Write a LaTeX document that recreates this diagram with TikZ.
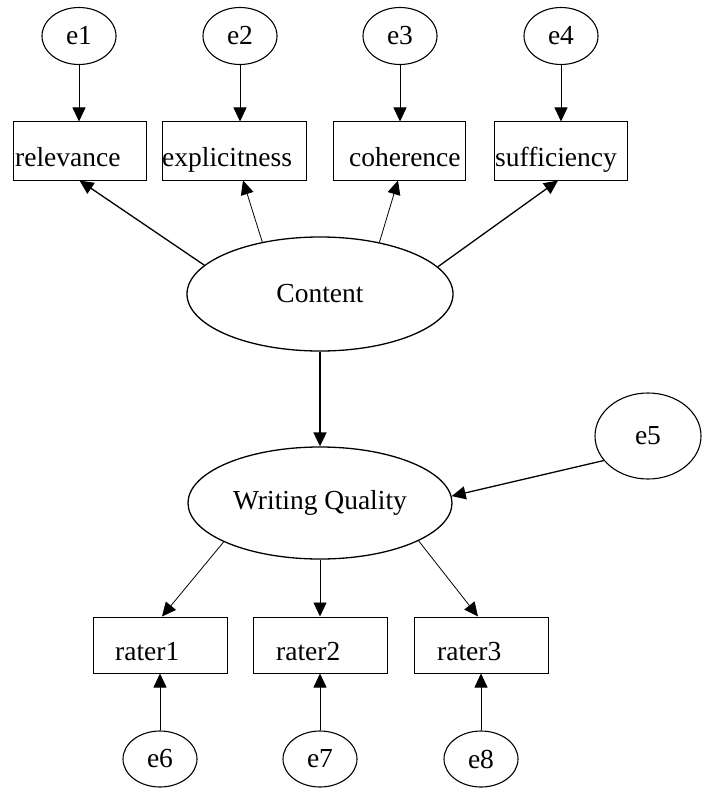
\documentclass[tikz,border=0pt]{standalone}
\usepackage{fontspec}
\setmainfont{Liberation Serif}
\usetikzlibrary{shapes.geometric,arrows.meta,calc}

\begin{document}
\begin{tikzpicture}[x=1pt,y=-1pt,
  font=\fontsize{27.5}{30}\selectfont,
  err/.style={draw,ellipse,line width=1.1pt,minimum width=74pt,minimum height=57pt,inner sep=0pt},
  latent/.style={draw,ellipse,line width=1.3pt,minimum width=266pt,minimum height=114pt,inner sep=0pt},
  obs/.style={draw,rectangle,line width=1pt,minimum height=58pt,inner sep=0pt},
  lbl/.style={anchor=base west,inner sep=0pt},
  arr/.style={-{Triangle[length=14pt,width=13pt]},line width=0.8pt},
  loadarr/.style={arr,line width=1.3pt},
]
\useasboundingbox (0,0) rectangle (704,789);

% error terms of the content indicators
\node[err] (e1) at (79,36) {e1};
\node[err] (e2) at (240,36) {e2};
\node[err] (e3) at (400,36) {e3};
\node[err] (e4) at (561,36) {e4};

% content indicators
\node[obs,minimum width=133pt] (rel) at (79.5,151) {};
\node[lbl] (relt) at (15,166) {relevance};
\node[obs,minimum width=144pt] (exp) at (234,151) {};
\node[lbl] (expt) at (162,166) {explicitness};
\node[obs,minimum width=132pt] (coh) at (399,151) {};
\node[lbl] (coht) at (349,166) {coherence};
\node[obs,minimum width=133pt] (suf) at (560.5,151) {};
\node[lbl] (suft) at (495,166) {sufficiency};

% latent variables
\node[latent] (content) at (320,294) {Content};
\node[latent,minimum width=264pt,minimum height=112pt] (wq) at (320,503) {Writing Quality};
\node[err,minimum width=106pt,minimum height=86pt] (e5) at (648,436) {e5};

% rater scores
\node[obs,minimum width=134pt,minimum height=56pt] (r1) at (160,645) {};
\node[lbl] (r1t) at (115,660) {rater1};
\node[obs,minimum width=134pt,minimum height=56pt] (r2) at (320,645) {};
\node[lbl] (r2t) at (276,660) {rater2};
\node[obs,minimum width=134pt,minimum height=56pt] (r3) at (481,645) {};
\node[lbl] (r3t) at (437,660) {rater3};

% error terms of the raters
\node[err,minimum height=56pt] (e6) at (160,759) {e6};
\node[err,minimum height=56pt] (e7) at (320,759) {e7};
\node[err,minimum height=56pt] (e8) at (481,759) {e8};

% error paths
\draw[arr] (e1.south) -- (e1.south |- rel.north);
\draw[arr] (e2.south) -- (e2.south |- exp.north);
\draw[arr] (e3.south) -- (e3.south |- coh.north);
\draw[arr] (e4.south) -- (e4.south |- suf.north);

% loadings of content
\draw[loadarr] (content.166.8) -- (rel.south);
\draw[arr] (content.138.6) -- ($(exp.south)+(9,0)$);
\draw[arr] (content.41.9) -- ($(coh.south)+(-1,0)$);
\draw[loadarr] (content.13) -- ($(suf.south)+(-2.5,0)$);

% structural path and disturbance
\draw[arr,line width=1.9pt] (content.south) -- (wq.north);
\draw[loadarr] (e5.209) -- (wq.3);

% loadings of writing quality
\draw[arr] (wq.202) -- ($(r1.north)+(2,0)$);
\draw[arr] (wq.south) -- (r2.north);
\draw[arr] (wq.-21.6) -- ($(r3.north)+(-3,0)$);

% rater error paths
\draw[arr] (e6.north) -- (r1.south);
\draw[arr] (e7.north) -- (r2.south);
\draw[arr] (e8.north) -- (r3.south);
\end{tikzpicture}
\end{document}
